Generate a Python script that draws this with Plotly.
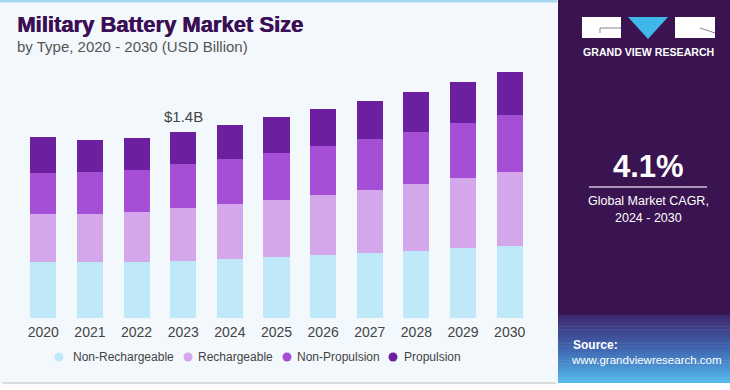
import plotly.graph_objects as go

years = ["2020", "2021", "2022", "2023", "2024", "2025", "2026", "2027", "2028", "2029", "2030"]
non_rechargeable = [0.421, 0.419, 0.423, 0.431, 0.443, 0.461, 0.473, 0.491, 0.506, 0.524, 0.543]
rechargeable = [0.358, 0.361, 0.371, 0.394, 0.411, 0.426, 0.451, 0.471, 0.499, 0.526, 0.552]
non_propulsion = [0.313, 0.316, 0.318, 0.331, 0.340, 0.356, 0.368, 0.383, 0.395, 0.413, 0.431]
propulsion = [0.271, 0.243, 0.243, 0.245, 0.256, 0.266, 0.278, 0.288, 0.301, 0.308, 0.325]
series_names = ["Non-Rechargeable", "Rechargeable", "Non-Propulsion", "Propulsion"]
series_colors = ["#bfe9f9", "#d4a7ea", "#a54fd6", "#6c1f9e"]
annot_year = "2023"
annot_text = "$1.4B"

W, H = 730, 390
L, R, T, B = 20, 197, 60, 72
PW, PH = W - L - R, H - T - B

def px(x):
    return (x - L) / PW

def py(y):
    return (H - B - y) / PH

fig = go.Figure()
for name, vals, col in zip(series_names, [non_rechargeable, rechargeable, non_propulsion, propulsion], series_colors):
    fig.add_trace(go.Bar(x=years, y=vals, name=name, marker=dict(color=col, line=dict(width=0)),
                         showlegend=False))

totals = [a + b + c + d for a, b, c, d in zip(non_rechargeable, rechargeable, non_propulsion, propulsion)]
idx = years.index(annot_year)
fig.add_annotation(x=idx, y=totals[idx], text=annot_text, showarrow=False, yanchor="bottom",
                   yshift=5, font=dict(size=15, color="#444444", family="Liberation Sans, Arial"))

def lerp(c1, c2, t):
    a = [int(c1[i:i+2], 16) for i in (1, 3, 5)]
    b = [int(c2[i:i+2], 16) for i in (1, 3, 5)]
    return "#%02x%02x%02x" % tuple(int(round(a[k] + (b[k] - a[k]) * t)) for k in range(3))

shapes = []
# right purple panel
shapes.append(dict(type="rect", xref="paper", yref="paper", x0=px(558), x1=px(730), y0=py(315), y1=py(0),
                   fillcolor="#3a1450", line=dict(width=0), layer="below"))
# source gradient
steps = 24
y_top, y_bot = 315, 383
for i in range(steps):
    t = i / (steps - 1)
    if t < 0.5:
        c = lerp("#3d2a72", "#3f66b0", t / 0.5)
    else:
        c = lerp("#3f66b0", "#55b8ea", (t - 0.5) / 0.5)
    ya = y_top + (y_bot - y_top) * i / steps
    yb = y_top + (y_bot - y_top) * (i + 1) / steps
    shapes.append(dict(type="rect", xref="paper", yref="paper", x0=px(558), x1=px(730), y0=py(yb + 0.5), y1=py(ya),
                       fillcolor=c, line=dict(width=0), layer="below"))
# top blue strip
shapes.append(dict(type="rect", xref="paper", yref="paper", x0=px(0), x1=px(557), y0=py(2.5), y1=py(0),
                   fillcolor="#a6d8f2", line=dict(width=0), layer="below"))
# bottom line and white
shapes.append(dict(type="rect", xref="paper", yref="paper", x0=px(0), x1=px(730), y0=py(390), y1=py(383),
                   fillcolor="#ffffff", line=dict(width=0), layer="below"))
shapes.append(dict(type="line", xref="paper", yref="paper", x0=px(2), x1=px(556), y0=py(383), y1=py(383),
                   line=dict(color="#cfd3d6", width=1.5), layer="below"))
# logo
shapes.append(dict(type="rect", xref="paper", yref="paper", x0=px(582), x1=px(621), y0=py(38), y1=py(17),
                   fillcolor="#ffffff", line=dict(width=0)))
shapes.append(dict(type="rect", xref="paper", yref="paper", x0=px(675), x1=px(715), y0=py(38), y1=py(17),
                   fillcolor="#ffffff", line=dict(width=0)))
shapes.append(dict(type="path", xref="paper", yref="paper",
                   path="M %f,%f L %f,%f L %f,%f Z" % (px(628), py(17), px(668), py(17), px(648), py(39)),
                   fillcolor="#3fb7e8", line=dict(width=0)))
shapes.append(dict(type="path", xref="paper", yref="paper",
                   path="M %f,%f L %f,%f L %f,%f" % (px(621), py(28), px(600), py(28), px(600), py(33)),
                   line=dict(color="#8a7f95", width=1)))
shapes.append(dict(type="line", xref="paper", yref="paper", x0=px(700), x1=px(715), y0=py(28), y1=py(33),
                   line=dict(color="#8a7f95", width=1)))
# CAGR divider
shapes.append(dict(type="line", xref="paper", yref="paper", x0=px(589), x1=px(707), y0=py(187), y1=py(187),
                   line=dict(color="#cdbfd8", width=1.5)))

# custom legend (circle markers + labels)
F = "Liberation Sans, Arial, sans-serif"
legend_marker_x = [59, 188, 287, 393]
legend_text_x = [71, 196, 295, 402]
legend_y = 357
rad = 4.5
for mx, col in zip(legend_marker_x, series_colors):
    shapes.append(dict(type="circle", xref="paper", yref="paper", x0=px(mx - rad), x1=px(mx + rad),
                       y0=py(legend_y + rad), y1=py(legend_y - rad), fillcolor=col, line=dict(width=0)))
fig.update_layout(shapes=shapes)

for tx, name in zip(legend_text_x, series_names):
    fig.add_annotation(xref="paper", yref="paper", x=px(tx), y=py(legend_y), text=name, showarrow=False,
                       xanchor="left", yanchor="middle", font=dict(size=12, color="#444444", family=F))

ann = [
    dict(x=px(15), y=py(25), text="<b>Military Battery Market Size</b>", xanchor="left", yanchor="middle",
         font=dict(size=22, color="#3b0f55", family="Liberation Sans, Arial", shadow="0.7px 0 0 #3b0f55")),
    dict(x=px(15), y=py(47), text="by Type, 2020 - 2030 (USD Billion)", xanchor="left", yanchor="middle",
         font=dict(size=15, color="#555555", family=F)),
    dict(x=px(648), y=py(52), text="<b>GRAND VIEW RESEARCH</b>", xanchor="center", yanchor="middle",
         font=dict(size=10.6, color="#ffffff", family=F)),
    dict(x=px(648), y=py(166), text="<b>4.1%</b>", xanchor="center", yanchor="middle",
         font=dict(size=31, color="#ffffff", family=F)),
    dict(x=px(648), y=py(201), text="Global Market CAGR,", xanchor="center", yanchor="middle",
         font=dict(size=12.5, color="#ffffff", family=F)),
    dict(x=px(648), y=py(218), text="2024 - 2030", xanchor="center", yanchor="middle",
         font=dict(size=12.5, color="#ffffff", family=F)),
    dict(x=px(571), y=py(345), text="<b>Source:</b>", xanchor="left", yanchor="middle",
         font=dict(size=12, color="#ffffff", family=F)),
    dict(x=px(569), y=py(360), text="www.grandviewresearch.com", xanchor="left", yanchor="middle",
         font=dict(size=11.5, color="#ffffff", family=F)),
]
for a in ann:
    fig.add_annotation(xref="paper", yref="paper", showarrow=False, **a)

fig.update_layout(
    width=W, height=H,
    margin=dict(l=L, r=R, t=T, b=B, pad=0, autoexpand=False),
    barmode="stack", bargap=0.44,
    paper_bgcolor="#f3f8fc", plot_bgcolor="rgba(0,0,0,0)",
    font=dict(family=F, color="#444444"),
    xaxis=dict(type="category", categoryorder="array", categoryarray=years, range=[-0.5, len(years) - 0.5],
               showgrid=False, showline=False, zeroline=False, ticks="", tickfont=dict(size=14, color="#444444"),
               ticklabelstandoff=4, fixedrange=True),
    yaxis=dict(range=[0, PH / 133.07], visible=False, showgrid=False, zeroline=False, fixedrange=True),
    showlegend=False,
    hovermode=False,
)
fig.write_html("out.html", config={"displayModeBar": False},
               post_script="document.body.style.margin='0';document.body.style.padding='0';")
